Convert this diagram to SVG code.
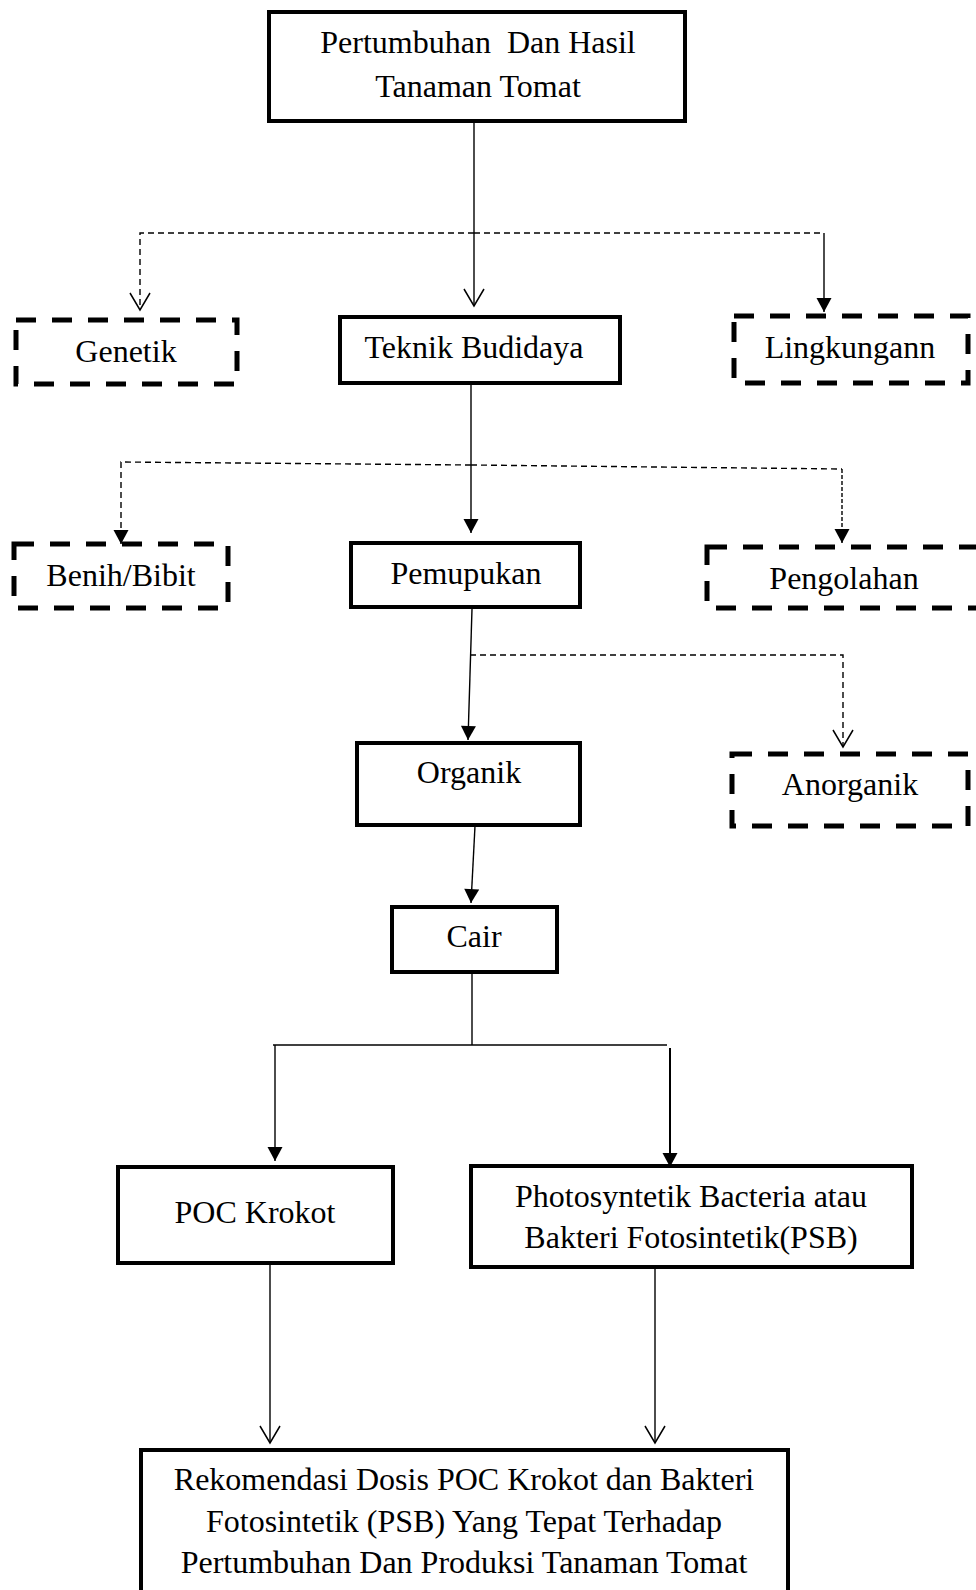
<svg xmlns="http://www.w3.org/2000/svg" width="976" height="1590" viewBox="0 0 976 1590">
<style>
.box{fill:#fff;stroke:#000;stroke-width:4}
.dbox{fill:#fff;stroke:#000;stroke-width:5;stroke-dasharray:20 16}
.t{font-family:"Liberation Serif","Times New Roman",serif;font-size:32px;fill:#000;text-anchor:middle}
.ln{fill:none;stroke:#000;stroke-width:1.4}
.dl{fill:none;stroke:#000;stroke-width:1.4;stroke-dasharray:6 4}
.dl2{fill:none;stroke:#000;stroke-width:1.4;stroke-dasharray:4 2}
</style>
<defs>
<marker id="fa" markerUnits="userSpaceOnUse" viewBox="0 0 16 16" markerWidth="16" markerHeight="16" refX="15" refY="8" orient="auto"><path d="M1,0.5 L15,8 L1,15.5 z" fill="#000"/></marker>
<marker id="oa" markerUnits="userSpaceOnUse" viewBox="0 0 20 22" markerWidth="20" markerHeight="22" refX="18" refY="11" orient="auto"><path d="M1,1 L18,11 L1,21" fill="none" stroke="#000" stroke-width="1.5"/></marker>
</defs>
<g id="connectors">
<path class="ln" d="M474,122 V306" marker-end="url(#oa)"/>
<path class="dl" d="M474,233 H140 V310" marker-end="url(#oa)"/>
<path class="dl" d="M474,233 H824"/>
<path class="ln" d="M824,233 V312" marker-end="url(#fa)"/>
<path class="ln" d="M471,384 V533" marker-end="url(#fa)"/>
<path class="dl" d="M471,465 L121,462 V544" marker-end="url(#fa)"/>
<path class="dl" d="M471,465 L842,469"/>
<path class="dl2" d="M842,469 V543" marker-end="url(#fa)"/>
<path class="ln" d="M472,609 L468,740" marker-end="url(#fa)"/>
<path class="dl" d="M470,655 H843 V747" marker-end="url(#oa)"/>
<path class="ln" d="M475,826 L471,903" marker-end="url(#fa)"/>
<path class="ln" d="M472,972 V1045"/>
<path class="ln" d="M273,1045 H667"/>
<path class="ln" d="M275,1045 V1161" marker-end="url(#fa)"/>
<path class="ln" style="stroke-width:2" d="M670,1048 V1167" marker-end="url(#fa)"/>
<path class="ln" d="M270,1263 V1443" marker-end="url(#oa)"/>
<path class="ln" d="M655,1267 V1443" marker-end="url(#oa)"/>
</g>
<g id="n-top"><rect class="box" x="269" y="12" width="416" height="109"/><text class="t" x="478" y="53" xml:space="preserve" style="white-space:pre">Pertumbuhan  Dan Hasil</text><text class="t" x="478" y="97">Tanaman Tomat</text></g>
<g id="n-genetik"><rect class="dbox" x="16" y="320" width="221" height="64"/><text class="t" x="126" y="362">Genetik</text></g>
<g id="n-teknik"><rect class="box" x="340" y="317" width="280" height="66"/><text class="t" x="474" y="358">Teknik Budidaya</text></g>
<g id="n-lingkungan"><rect class="dbox" x="734" y="316" width="234" height="67"/><text class="t" x="850" y="358">Lingkungann</text></g>
<g id="n-benih"><rect class="dbox" x="14" y="544" width="214" height="64"/><text class="t" x="121" y="586">Benih/Bibit</text></g>
<g id="n-pemupukan"><rect class="box" x="351" y="543" width="229" height="64"/><text class="t" x="466" y="584">Pemupukan</text></g>
<g id="n-pengolahan"><rect class="dbox" x="707" y="547" width="290" height="61"/><text class="t" x="844" y="589">Pengolahan</text></g>
<g id="n-organik"><rect class="box" x="357" y="743" width="223" height="82"/><text class="t" x="469" y="783">Organik</text></g>
<g id="n-anorganik"><rect class="dbox" x="732" y="754" width="236" height="72"/><text class="t" x="850" y="795">Anorganik</text></g>
<g id="n-cair"><rect class="box" x="392" y="907" width="165" height="65"/><text class="t" x="474" y="947">Cair</text></g>
<g id="n-poc"><rect class="box" x="118" y="1167" width="275" height="96"/><text class="t" x="255" y="1223">POC Krokot</text></g>
<g id="n-psb"><rect class="box" x="471" y="1166" width="441" height="101"/><text class="t" x="691" y="1207">Photosyntetik Bacteria atau</text><text class="t" x="691" y="1248">Bakteri Fotosintetik(PSB)</text></g>
<g id="n-final"><rect class="box" x="141" y="1450" width="647" height="160"/><text class="t" x="464" y="1490">Rekomendasi Dosis POC Krokot dan Bakteri</text><text class="t" x="464" y="1532">Fotosintetik (PSB) Yang Tepat Terhadap</text><text class="t" x="464" y="1573">Pertumbuhan Dan Produksi Tanaman Tomat</text></g>
</svg>
